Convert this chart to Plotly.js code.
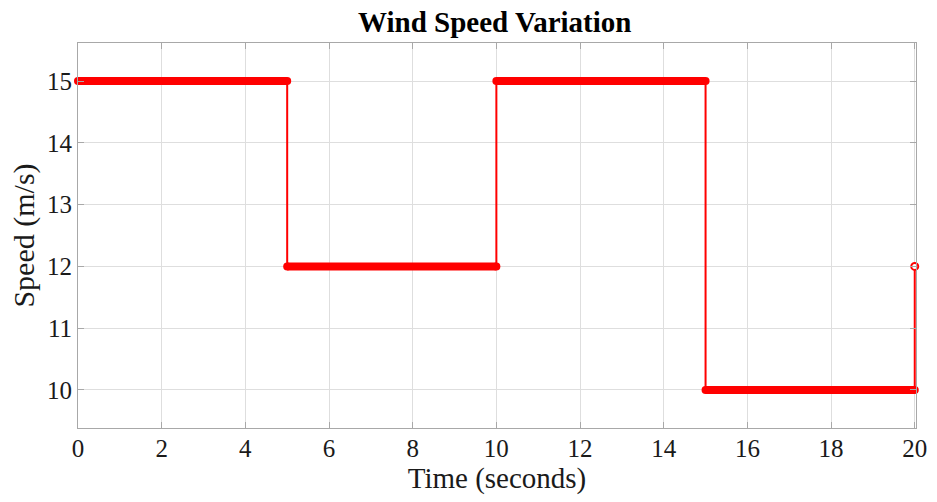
<!DOCTYPE html>
<html>
<head>
<meta charset="utf-8">
<script src="https://cdn.plot.ly/plotly-3.0.1.min.js"></script>
<style>
  html, body { margin: 0; padding: 0; background: #fff; }
  #chart { width: 937px; height: 502px; }
</style>
</head>
<body>
<div id="chart"></div>
<script>
// Step changes of the wind speed profile
const stepTimes = [0, 5, 10, 15, 20];        // start time of each step (s)
const stepSpeeds = [15, 12, 15, 10, 12];     // speed held from that time (m/s)
const xTicks = [0, 2, 4, 6, 8, 10, 12, 14, 16, 18, 20];
const yTicks = [10, 11, 12, 13, 14, 15];

const RED = '#ff0000';
const traces = [];

// thin stair line joining every level
traces.push({
  x: stepTimes,
  y: stepSpeeds,
  mode: 'lines',
  line: { color: RED, width: 2, shape: 'hv' },
  hoverinfo: 'skip'
});

// thick held segments between consecutive step times
for (let i = 0; i < stepTimes.length - 1; i++) {
  traces.push({
    x: [stepTimes[i], stepTimes[i + 1]],
    y: [stepSpeeds[i], stepSpeeds[i]],
    mode: 'lines+markers',
    cliponaxis: false,
    line: { color: RED, width: 8 },
    marker: { color: RED, size: 8, line: { width: 0 } },
    hoverinfo: 'skip'
  });
}

// final sample drawn as an open circle
const last = stepTimes.length - 1;
traces.push({
  x: [stepTimes[last]],
  y: [stepSpeeds[last]],
  mode: 'markers',
  cliponaxis: false,
  marker: { color: '#ffffff', size: 7, line: { color: RED, width: 2 } },
  hoverinfo: 'skip'
});

const serif = '"Liberation Serif", "Times New Roman", serif';
const axisCommon = {
  showgrid: true,
  gridcolor: '#dedede',
  gridwidth: 1,
  zeroline: false,
  showline: true,
  linecolor: '#a8a8a8',
  linewidth: 1,
  mirror: 'ticks',
  ticks: 'inside',
  ticklen: 6,
  tickwidth: 1,
  tickcolor: '#a8a8a8',
  tickfont: { family: serif, size: 25, color: '#1a1a1a' }
};

const layout = {
  width: 937,
  height: 502,
  margin: { l: 78, r: 21, t: 43, b: 74 },
  paper_bgcolor: '#ffffff',
  plot_bgcolor: '#ffffff',
  showlegend: false,
  title: {
    text: '<b>Wind Speed Variation</b>',
    font: { family: serif, size: 29, color: '#000000' },
    x: 0.528, xanchor: 'center',
    y: 0.957, yanchor: 'middle'
  },
  xaxis: Object.assign({}, axisCommon, {
    range: [0, 20.03],
    tickvals: xTicks,
    ticktext: xTicks.map(String),
    ticklabelstandoff: -2,
    title: { text: 'Time (seconds)', font: { family: serif, size: 29, color: '#1a1a1a' }, standoff: 2 }
  }),
  yaxis: Object.assign({}, axisCommon, {
    range: [9.385, 15.615],
    tickvals: yTicks,
    ticktext: yTicks.map(String),
    title: { text: 'Speed (m/s)', font: { family: serif, size: 30, color: '#1a1a1a' }, standoff: 3 }
  })
};

Plotly.newPlot('chart', traces, layout, { displayModeBar: false, staticPlot: true });
</script>
</body>
</html>
